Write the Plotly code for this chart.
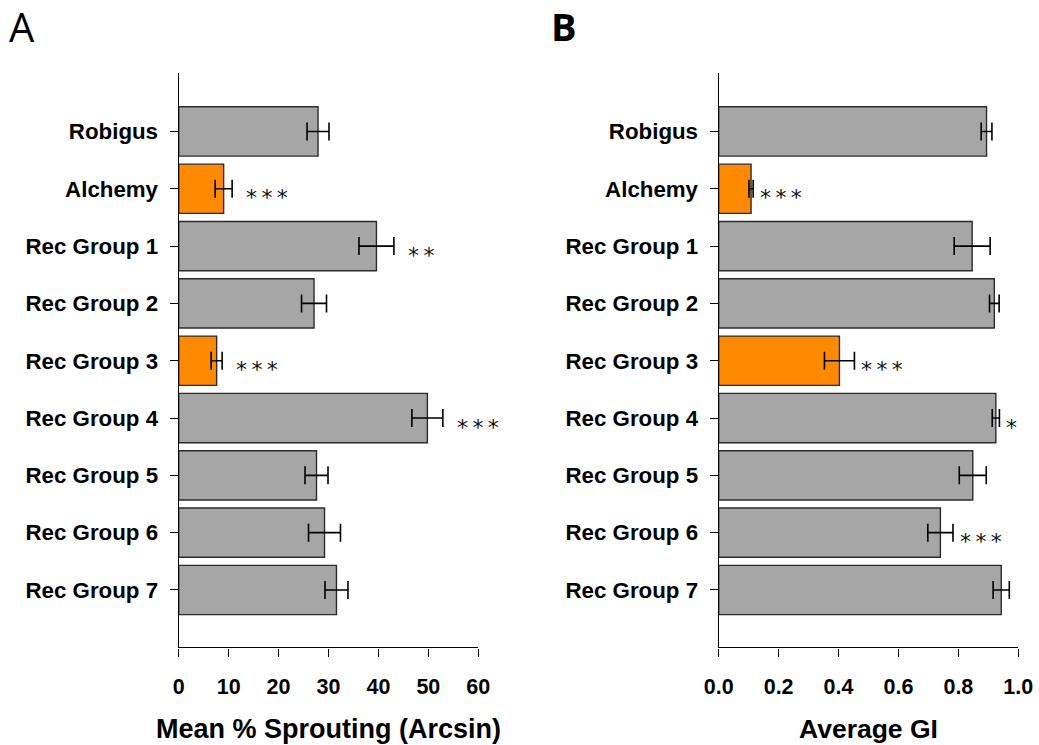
import plotly.graph_objects as go

# Genotypes, top to bottom
lines = ["Robigus", "Alchemy", "Rec Group 1", "Rec Group 2", "Rec Group 3",
         "Rec Group 4", "Rec Group 5", "Rec Group 6", "Rec Group 7"]

# Panel A: mean % sprouting (arcsin transformed) with standard errors
sprout_mean = [27.9, 9.0, 39.6, 27.1, 7.6, 49.8, 27.6, 29.2, 31.6]
sprout_se = [2.2, 1.7, 3.5, 2.5, 1.1, 3.1, 2.3, 3.2, 2.3]
sprout_sig = ["", "***", "**", "", "***", "***", "", "", ""]

# Panel B: average germination index with standard errors
gi_mean = [0.894, 0.108, 0.846, 0.920, 0.403, 0.925, 0.848, 0.740, 0.943]
gi_se = [0.018, 0.007, 0.060, 0.016, 0.050, 0.012, 0.045, 0.042, 0.027]
gi_sig = ["", "***", "", "", "***", "*", "", "***", ""]

highlight = {"Alchemy", "Rec Group 3"}
GREY = "#A6A6A6"
ORANGE = "#FF8A00"
colors = [ORANGE if name in highlight else GREY for name in lines]

FONT = "Liberation Sans, Arial, sans-serif"
W, H = 1039, 745

fig = go.Figure()

def add_panel(xref, yref, means, ses):
    fig.add_trace(go.Bar(
        x=means, y=lines, orientation="h", width=0.86,
        marker=dict(color=colors, line=dict(color="#2b2b2b", width=1.4)),
        error_x=dict(type="data", array=ses, visible=True, color="black",
                     thickness=1.6, width=9),
        xaxis=xref, yaxis=yref, showlegend=False, hoverinfo="x+y",
    ))

add_panel("x", "y", sprout_mean, sprout_se)
add_panel("x2", "y2", gi_mean, gi_se)

# plot areas in pixels
ax_a = (178.7, 478.3)
ax_b = (718.7, 1018.3)
top_px, bot_px = 73.0, 647.3
ydom = [1 - bot_px / H, 1 - top_px / H]

yaxis_common = dict(
    type="category", categoryorder="array", categoryarray=lines,
    range=[9.0, -1.02], showline=True, linecolor="black", linewidth=1.4,
    ticks="outside", ticklen=8, tickwidth=1.4, tickcolor="black",
    ticklabelstandoff=7, showgrid=False, zeroline=False, automargin=False,
    tickfont=dict(family=FONT, size=22.3, color="black", weight="bold"),
    domain=ydom,
)
xaxis_common = dict(
    showline=True, linecolor="black", linewidth=1.4,
    ticks="outside", ticklen=8, tickwidth=1.4, tickcolor="black",
    showgrid=False, zeroline=False, ticklabelstandoff=12, automargin=False,
    tickfont=dict(family=FONT, size=21.5, color="black", weight="bold"),
)

fig.update_layout(
    width=W, height=H,
    margin=dict(l=0, r=0, t=0, b=0, pad=0, autoexpand=False),
    paper_bgcolor="white", plot_bgcolor="white", bargap=0.14,
    xaxis=dict(xaxis_common, domain=[ax_a[0] / W, ax_a[1] / W], range=[0, 60],
               tickvals=[0, 10, 20, 30, 40, 50, 60], anchor="y"),
    yaxis=dict(yaxis_common, anchor="x"),
    xaxis2=dict(xaxis_common, domain=[ax_b[0] / W, ax_b[1] / W], range=[0, 1.0],
                tickvals=[0, 0.2, 0.4, 0.6, 0.8, 1.0], tickformat=".1f", anchor="y2"),
    yaxis2=dict(yaxis_common, anchor="x2"),
)

# significance stars beside the error bars
def add_stars(xref, yref, means, ses, sig, shift):
    for name, m, s, t in zip(lines, means, ses, sig):
        if not t:
            continue
        fig.add_annotation(
            x=m + s, y=name, xref=xref, yref=yref, text="\u2009".join(t),
            showarrow=False, xanchor="left", yanchor="middle",
            xshift=shift, yshift=-9,
            font=dict(family="DejaVu Sans, sans-serif", size=22, color="#111111"),
        )

add_stars("x", "y", sprout_mean, sprout_se, sprout_sig, 12)
add_stars("x2", "y2", gi_mean, gi_se, gi_sig, 5)

# axis titles
fig.add_annotation(x=sum(ax_a) / 2 / W, y=1 - 729 / H, xref="paper", yref="paper",
                   text="<b>Mean % Sprouting (Arcsin)</b>", showarrow=False,
                   xanchor="center", yanchor="middle",
                   font=dict(family=FONT, size=27, color="black"))
fig.add_annotation(x=sum(ax_b) / 2 / W, y=1 - 729 / H, xref="paper", yref="paper",
                   text="<b>Average GI</b>", showarrow=False,
                   xanchor="center", yanchor="middle",
                   font=dict(family=FONT, size=26.5, color="black"))

# panel letters
fig.add_annotation(x=7 / W, y=1 - 26 / H, xref="paper", yref="paper", text="A",
                   showarrow=False, xanchor="left", yanchor="middle",
                   font=dict(family="Open Sans, sans-serif", size=40, color="black"))
fig.add_annotation(x=549 / W, y=1 - 26 / H, xref="paper", yref="paper", text="<b>B</b>",
                   showarrow=False, xanchor="left", yanchor="middle",
                   font=dict(family="Open Sans, sans-serif", size=38, color="black"))

fig.write_html("out.html")
